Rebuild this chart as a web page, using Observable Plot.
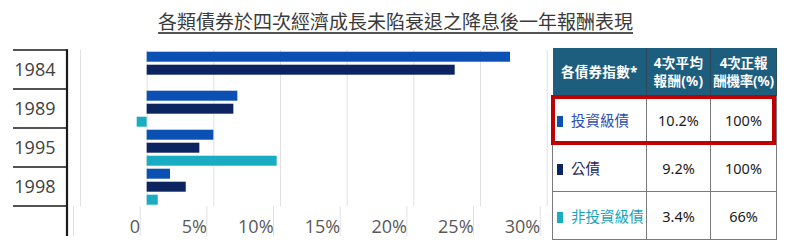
<!DOCTYPE html>
<html>
<head>
<meta charset="utf-8">
<script src="https://cdn.jsdelivr.net/npm/d3@7"></script>
<script src="https://cdn.jsdelivr.net/npm/@observablehq/plot@0.6"></script>
<style>
  body { margin: 0; background: #fff; }
  #wrap { position: relative; width: 800px; height: 249px; overflow: hidden; font-family: "Noto Sans", "Noto Sans CJK TC", sans-serif; }
  #title { height: 40px; box-sizing: border-box; padding-top: 11px; padding-left: 158px; text-align: left;
           font-family: "Noto Sans CJK TC", sans-serif; font-size: 19px; line-height: 20px; color: #3a3a3a; white-space: nowrap; }
  #title span { text-decoration: underline; text-decoration-color: #555; text-decoration-thickness: 1.5px; text-underline-offset: 3px; }
  #chart { position: absolute; left: 0; top: 40px; }
  #tbl { position: absolute; left: 552px; top: 48px; width: 224px; border-collapse: collapse; table-layout: fixed; }
  #tbl th { background: #1d5e7e; color: #fff; font-family: "Noto Sans", "Noto Sans CJK TC", sans-serif; font-weight: bold; font-size: 13.5px;
            line-height: 18px; height: 47px; padding: 0; text-align: center; border-right: 1px solid #2d4a5a; white-space: nowrap; letter-spacing: 0.3px; }
  #tbl th.tight { letter-spacing: -0.2px; }
  #tbl td { height: 47px; padding: 0; border: 1px solid #7a7a7a; text-align: center; font-family: "Noto Sans", sans-serif;
            font-size: 14.5px; color: #1a1a1a; }
  #tbl td.name { text-align: left; padding-left: 4px; font-family: "Noto Sans CJK TC", sans-serif; font-size: 14.5px; white-space: nowrap; }
  #tbl td.name i { display: inline-block; width: 6px; height: 11px; margin-right: 8px; vertical-align: -1px; }
  #hl { position: absolute; left: 551px; top: 95px; width: 225px; height: 50px; box-sizing: border-box; border: 4px solid #c00000; }
</style>
</head>
<body>
<div id="wrap">
  <div id="title"><span>各類債券於四次經濟成長未陷衰退之降息後一年報酬表現</span></div>
  <div id="chart"></div>
  <table id="tbl">
    <colgroup><col style="width:94px"><col style="width:64px"><col style="width:66px"></colgroup>
    <thead><tr><th>各債券指數*</th><th>4次平均<br>報酬(%)</th><th class="tight">4次正報<br>酬機率(%)</th></tr></thead>
    <tbody></tbody>
  </table>
  <div id="hl"></div>
</div>
<script>
const years = ["1984", "1989", "1995", "1998"];
const series = ["投資級債", "公債", "非投資級債"];
const colors = ["#0b50b3", "#0c2561", "#19acc3"];
const textColors = ["#2e4db5", "#1c2a5e", "#1aa3ba"];
const igReturns = [27.25, 6.8, 5.0, 1.75];
const govReturns = [23.1, 6.5, 3.95, 2.93];
const hyReturns = [null, -0.75, 9.75, 0.83];
const xTicks = [-5, 0, 5, 10, 15, 20, 25, 30];
const avgReturns = ["10.2%", "9.2%", "3.4%"];
const positiveRates = ["100%", "100%", "66%"];

const data = [];
years.forEach((yr, i) => {
  [igReturns, govReturns, hyReturns].forEach((arr, j) => {
    if (arr[i] != null) data.push({year: yr, series: series[j], value: arr[i]});
  });
});

const chart = Plot.plot({
  width: 800,
  height: 209,
  marginTop: 9.3,
  marginBottom: 42.3,
  marginLeft: 80,
  marginRight: 253.3,
  style: {fontFamily: '"Open Sans", sans-serif', background: "transparent", overflow: "visible"},
  x: {domain: [-5, 30]},
  y: {domain: series, axis: null, paddingInner: 0.23, paddingOuter: 0.077},
  fy: {domain: years, padding: 0},
  color: {domain: series, range: colors},
  marks: [
    Plot.gridX(xTicks, {stroke: "#e0e0e0", strokeOpacity: 1}),
    Plot.axisX(xTicks, {
      anchor: "bottom", label: null, tickSize: 30, tickPadding: -16,
      stroke: "#e0e0e0", strokeOpacity: 1, fill: "#595959", fontSize: 18,
      textAnchor: "end", dx: -7,
      tickFormat: d => d < 0 ? "" : d === 0 ? "0" : d + "%"
    }),
    Plot.axisFy({anchor: "left", label: null, tickSize: 0, tickPadding: 25, fontSize: 18, fill: "#404040"}),
    Plot.barX(data, {x: "value", y: "series", fy: "year", fill: "series"})
  ]
});
document.getElementById("chart").appendChild(chart);

// row separators of the left year column, derived from the fy band scale
const fyS = chart.scale("fy"), xS = chart.scale("x");
const x0 = xS.apply(-5);
const bounds = years.map(y => fyS.apply(y)).concat([fyS.apply(years[years.length - 1]) + fyS.bandwidth]);
const g = d3.select(chart).append("g").attr("stroke", "#1a1a1a").attr("stroke-width", 1.6);
bounds.forEach(b => g.append("line").attr("x1", x0 - 67).attr("x2", x0 - 13).attr("y1", b).attr("y2", b));
g.append("line").attr("x1", x0 - 13).attr("x2", x0 - 13)
  .attr("y1", bounds[0] - 0.8).attr("y2", bounds[bounds.length - 1] + 30).attr("stroke-width", 2.2);

// table body
const tbody = d3.select("#tbl tbody");
series.forEach((s, i) => {
  const tr = tbody.append("tr");
  const td = tr.append("td").attr("class", "name").style("color", textColors[i]);
  td.append("i").style("background", colors[i]);
  td.append("span").text(s);
  tr.append("td").text(avgReturns[i]);
  tr.append("td").text(positiveRates[i]);
});
</script>
</body>
</html>
